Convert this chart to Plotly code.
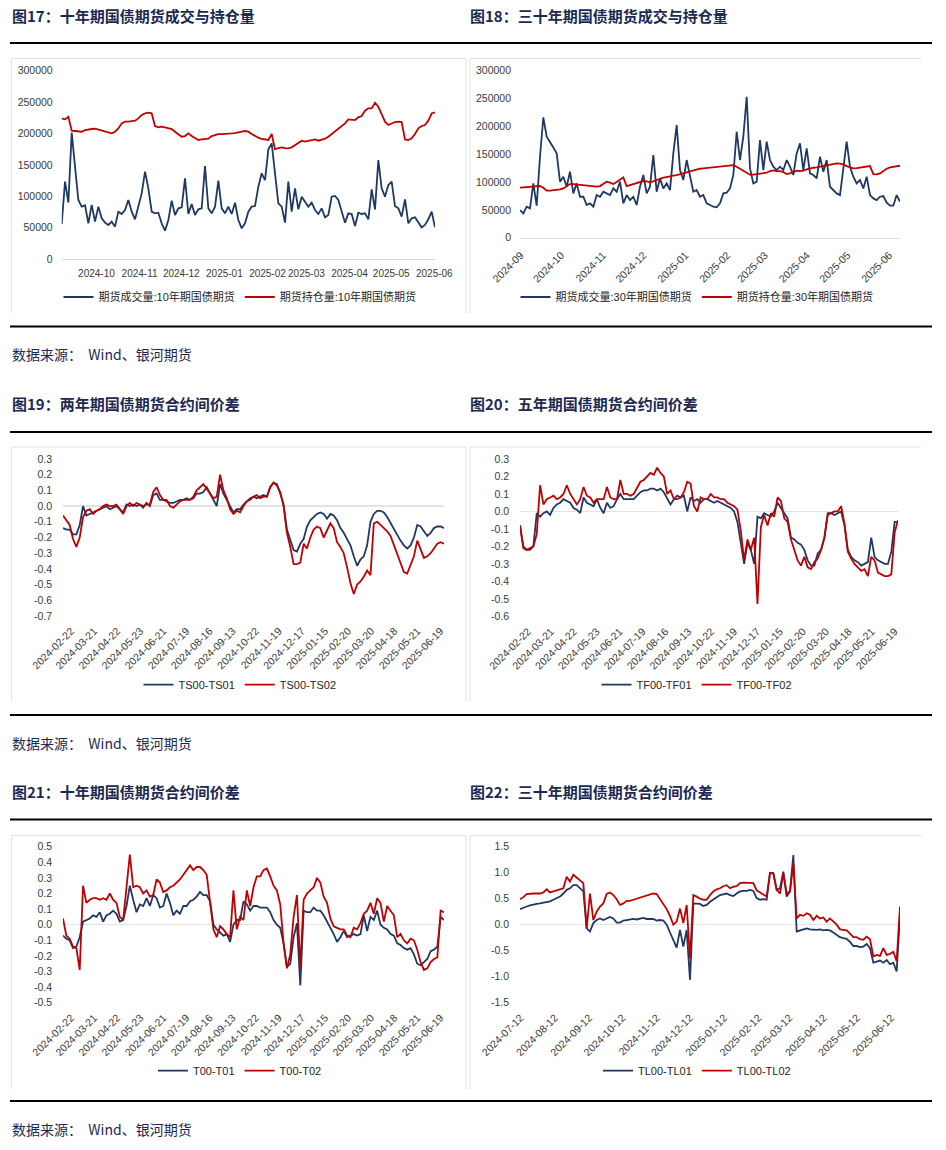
import numpy as np
import pandas as pd
import plotly.graph_objects as go

W, H = 946, 1150
NAVY = "#1f3864"
RED = "#c00000"
TITLE_C = "#1c2a53"
TICK_FONT = dict(family="Liberation Sans, Arial, sans-serif", size=10.5, color="#3a3a3a")
TICK_FONT_SMALL = dict(family="Liberation Sans, Arial, sans-serif", size=10, color="#3a3a3a")
LEG_FONT = dict(family="Liberation Sans, Noto Sans CJK SC, sans-serif", size=11, color="#262626")

# ---------------- data ----------------
# 图17 十年期国债期货成交与持仓量
c1_range = ["2024-09-20", "2025-06-15 12:00"]
c1_ticks = ["2024-10", "2024-11", "2024-12", "2025-01", "2025-02", "2025-03", "2025-04", "2025-05", "2025-06"]
c1_volume = [55700, 123200, 90000, 201200, 147100, 94000, 83400, 85500, 56800, 86000, 59500, 83400, 64800, 57900,
             54200, 59500, 51500, 75400, 71700, 78100, 94000, 75400, 63200, 83400, 104600, 139100, 112600, 75400,
             72700, 73800, 56800, 45100, 62100, 92900, 70100, 80700, 82300, 128500, 71700, 87600, 70100, 79100,
             80700, 148100, 80700, 72700, 83400, 124800, 80700, 72700, 83400, 71700, 89700, 62100, 48800, 56800,
             75400, 83400, 84400, 115200, 136500, 125800, 174700, 184300, 136500, 88700, 83400, 57900, 123200,
             75400, 112600, 79100, 99300, 91300, 83400, 89700, 78100, 71700, 80700, 66400, 70100, 99300, 100400,
             94000, 75400, 57900, 72700, 71700, 52600, 73800, 71700, 72700, 63200, 111000, 79100, 157700, 112600,
             99300, 117900, 123200, 84400, 80700, 67400, 95000, 56800, 64800, 66400, 57900, 50400, 54200, 63200,
             75400, 50400]
c1_oi = [224000, 222500, 226700, 204400, 203900, 203400, 202800, 205500, 206600, 207100, 207600, 206000, 204400,
         202800, 201200, 200200, 202800, 208100, 216100, 218800, 218800, 219300, 220400, 224000, 229400, 232000,
         233100, 232000, 211900, 209700, 210800, 209700, 208100, 207100, 202800, 199100, 194900, 195900, 200200,
         195900, 192200, 189600, 190600, 190600, 191700, 195900, 197500, 199100, 199100, 199100, 199600, 200200,
         200700, 201200, 202800, 203900, 202800, 199100, 195900, 193300, 191200, 190100, 189600, 199100, 174700,
         176800, 177900, 176800, 176300, 177900, 181600, 184300, 188500, 186900, 188000, 189600, 190600, 188500,
         189600, 191700, 194900, 199100, 204400, 208100, 211900, 216100, 222500, 221400, 221400, 225700, 227800,
         236300, 240000, 240000, 249000, 242700, 231000, 218800, 213500, 216100, 218200, 218800, 218200, 190600,
         189600, 192200, 199100, 208100, 211900, 213500, 220400, 232000, 233600]

# 图18 三十年期国债期货成交与持仓量
c2_range = ["2024-08-31 12:00", "2025-06-09"]
c2_ticks = ["2024-09", "2024-10", "2024-11", "2024-12", "2025-01", "2025-02", "2025-03", "2025-04", "2025-05", "2025-06"]
c2_volume = [49700, 43700, 55700, 52700, 97600, 57500, 145500, 216300, 181400, 172400, 162200, 151500, 100600,
             109600, 91600, 118500, 79600, 97600, 73600, 73600, 58700, 61700, 55700, 76600, 73600, 82600, 79600,
             76600, 88600, 82600, 100600, 61700, 76600, 67600, 73600, 58700, 91600, 112600, 79600, 91600, 148500,
             82600, 106600, 88600, 97600, 85600, 151500, 202400, 121500, 103600, 139500, 112600, 82600, 85600,
             73600, 76600, 61700, 58700, 55700, 54500, 61700, 79600, 80800, 88600, 112600, 190400, 139500, 181400,
             253200, 124500, 97600, 100600, 175400, 121500, 172400, 139500, 127500, 121500, 127500, 121500, 139500,
             127500, 112600, 151500, 169400, 121500, 160400, 115500, 112600, 106600, 145500, 118500, 139500, 91600,
             85600, 79600, 76600, 130500, 172400, 127500, 109600, 97600, 103600, 88600, 109600, 76600, 70600, 67600,
             73600, 74800, 62900, 57500, 57500, 76600, 64700]
c2_oi = [89800, 90400, 91000, 91600, 91600, 91600, 92800, 89800, 84400, 84400, 85000, 85600, 86800, 88600, 92800,
         96400, 96400, 95800, 95200, 94000, 93400, 92800, 92200, 91600, 92800, 96400, 100600, 98800, 96400, 100000,
         104800, 108400, 92800, 94600, 97600, 98800, 100000, 101800, 101200, 100000, 101200, 103600, 105400, 107800,
         109000, 109600, 111400, 112600, 114300, 116100, 117900, 119100, 121500, 123300, 123900, 124500, 125100,
         125700, 126300, 126900, 127500, 128700, 129900, 130500, 130500, 127500, 123900, 119700, 115500, 113200,
         113200, 113800, 114300, 115500, 116700, 119700, 120900, 119700, 119700, 117900, 114300, 115500, 117900,
         120300, 119700, 120300, 122700, 124500, 125700, 126300, 127500, 129900, 131100, 132300, 133500, 133500,
         132900, 131700, 128700, 126300, 124500, 125100, 126300, 127500, 128700, 128700, 114300, 113800, 115500,
         119700, 123900, 126300, 126900, 128700, 129300]

# 交易日序号坐标（图19-21）
spread_days = 330
spread_tick_pos = [7 + 20 * k for k in range(17)]
spread_ticks = ["2024-02-22", "2024-03-21", "2024-04-22", "2024-05-23", "2024-06-21", "2024-07-19", "2024-08-16",
                "2024-09-13", "2024-10-22", "2024-11-19", "2024-12-17", "2025-01-15", "2025-02-20", "2025-03-20",
                "2025-04-18", "2025-05-21", "2025-06-19"]

# 图19 两年期
ts01 = [-0.14, -0.15, -0.15, -0.18, -0.18, -0.12, 0.0, -0.06, -0.05, -0.04, -0.03, -0.02, -0.01, 0.0, -0.02, -0.01,
        0.0, -0.02, -0.04, 0.01, 0.0, 0.01, 0.0, 0.01, -0.01, 0.02, 0.0, 0.07, 0.08, 0.04, 0.04, 0.03, 0.02, 0.02,
        0.03, 0.04, 0.04, 0.05, 0.04, 0.05, 0.08, 0.08, 0.09, 0.12, 0.08, 0.04, 0.0, 0.14, 0.08, 0.04, 0.0, -0.04,
        -0.02, -0.02, 0.01, 0.03, 0.05, 0.06, 0.05, 0.06, 0.07, 0.06, 0.12, 0.15, 0.14, 0.08, 0.01, -0.15, -0.22,
        -0.28, -0.29, -0.24, -0.21, -0.13, -0.09, -0.07, -0.05, -0.04, -0.05, -0.08, -0.05, -0.06, -0.09, -0.14,
        -0.17, -0.21, -0.25, -0.32, -0.38, -0.34, -0.32, -0.25, -0.10, -0.05, -0.03, -0.03, -0.04, -0.07, -0.11,
        -0.15, -0.18, -0.22, -0.25, -0.27, -0.25, -0.20, -0.12, -0.13, -0.16, -0.19, -0.17, -0.14, -0.13, -0.13,
        -0.14]
ts02 = [-0.06, -0.09, -0.12, -0.21, -0.26, -0.20, -0.07, -0.03, -0.02, -0.05, -0.03, -0.02, 0.0, 0.01, 0.0, 0.0,
        0.01, -0.02, -0.05, 0.0, 0.02, 0.0, 0.02, 0.01, 0.0, 0.01, 0.01, 0.09, 0.12, 0.07, 0.04, 0.04, 0.0, -0.01,
        0.01, 0.03, 0.04, 0.04, 0.04, 0.06, 0.10, 0.12, 0.14, 0.11, 0.08, 0.05, 0.06, 0.20, 0.10, 0.05, -0.02, -0.05,
        -0.03, -0.04, 0.0, 0.03, 0.04, 0.06, 0.07, 0.05, 0.06, 0.06, 0.12, 0.15, 0.13, 0.09, 0.0, -0.17, -0.26,
        -0.37, -0.37, -0.36, -0.24, -0.27, -0.20, -0.15, -0.13, -0.14, -0.20, -0.15, -0.11, -0.14, -0.23, -0.26,
        -0.30, -0.39, -0.49, -0.56, -0.50, -0.48, -0.45, -0.41, -0.44, -0.11, -0.10, -0.12, -0.14, -0.16, -0.19,
        -0.25, -0.31, -0.37, -0.42, -0.43, -0.38, -0.32, -0.22, -0.28, -0.33, -0.32, -0.30, -0.27, -0.24, -0.23,
        -0.24]

# 图20 五年期
tf01 = [-0.08, -0.20, -0.22, -0.22, -0.20, -0.01, -0.03, -0.01, 0.0, -0.02, 0.02, 0.04, 0.05, 0.07, 0.06, 0.05,
        0.02, 0.01, -0.01, 0.08, 0.05, 0.04, 0.03, 0.07, 0.02, -0.01, 0.05, 0.02, 0.03, 0.07, 0.10, 0.07, 0.07, 0.07,
        0.07, 0.09, 0.11, 0.12, 0.12, 0.13, 0.13, 0.12, 0.13, 0.11, 0.07, 0.04, 0.07, 0.09, 0.08, 0.09, 0.0, 0.08,
        0.06, 0.07, 0.05, 0.07, 0.07, 0.06, 0.05, 0.06, 0.05, 0.04, 0.03, 0.02, 0.0, -0.06, -0.18, -0.30, -0.18,
        -0.22, -0.30, -0.03, -0.04, -0.01, -0.02, -0.03, 0.0, 0.05, 0.02, -0.01, -0.04, -0.15, -0.16, -0.18, -0.19,
        -0.22, -0.28, -0.31, -0.31, -0.24, -0.22, -0.15, -0.01, -0.01, -0.02, -0.01, 0.0, -0.08, -0.22, -0.26,
        -0.28, -0.29, -0.31, -0.30, -0.29, -0.15, -0.26, -0.28, -0.29, -0.30, -0.30, -0.23, -0.06, -0.06]
tf02 = [-0.08, -0.21, -0.22, -0.21, -0.20, -0.13, 0.15, 0.04, 0.07, 0.08, 0.09, 0.07, 0.08, 0.10, 0.15, 0.10, 0.07,
        0.04, 0.07, 0.14, 0.09, 0.08, 0.05, 0.07, 0.07, 0.07, 0.14, 0.08, 0.07, 0.07, 0.18, 0.10, 0.10, 0.09, 0.10,
        0.14, 0.17, 0.18, 0.20, 0.22, 0.21, 0.25, 0.22, 0.20, 0.10, 0.12, 0.07, 0.07, 0.08, 0.11, 0.17, 0.16, 0.03,
        0.0, 0.08, 0.07, 0.07, 0.10, 0.08, 0.08, 0.07, 0.07, 0.05, 0.04, 0.03, 0.01, -0.11, -0.28, -0.16, -0.22,
        -0.15, -0.53, -0.09, -0.02, -0.08, -0.01, -0.03, 0.08, 0.06, -0.04, -0.06, -0.16, -0.22, -0.28, -0.31,
        -0.26, -0.32, -0.33, -0.29, -0.27, -0.22, -0.15, -0.02, -0.01, 0.0, 0.0, 0.03, -0.07, -0.23, -0.27, -0.30,
        -0.32, -0.34, -0.33, -0.37, -0.26, -0.28, -0.35, -0.36, -0.37, -0.37, -0.36, -0.12, -0.05]

# 图21 十年期
t01 = [-0.07, -0.09, -0.10, -0.15, -0.14, -0.08, 0.02, 0.03, 0.04, 0.06, 0.05, 0.08, 0.02, 0.06, 0.07, 0.09, 0.07,
       0.02, 0.03, 0.12, 0.25, 0.16, 0.08, 0.13, 0.12, 0.17, 0.12, 0.19, 0.17, 0.11, 0.12, 0.20, 0.14, 0.06, 0.09,
       0.07, 0.12, 0.12, 0.15, 0.16, 0.18, 0.21, 0.19, 0.19, 0.15, 0.0, -0.03, -0.05, -0.07, -0.06, -0.11, 0.0, 0.03,
       0.03, 0.15, 0.13, 0.09, 0.12, 0.12, 0.11, 0.11, 0.11, 0.08, 0.03, 0.0, -0.02, -0.12, -0.27, -0.25, -0.08,
       0.01, -0.39, 0.09, 0.08, 0.08, 0.11, 0.09, 0.09, 0.06, 0.02, -0.01, -0.06, -0.11, -0.08, -0.04, -0.08,
       -0.07, -0.06, -0.07, -0.06, 0.06, -0.04, 0.05, 0.03, 0.09, 0.0, -0.02, -0.03, -0.06, -0.07, -0.12, -0.13,
       -0.15, -0.16, -0.15, -0.19, -0.25, -0.26, -0.24, -0.22, -0.17, -0.16, -0.14, 0.05, 0.03]
t02 = [0.04, -0.07, -0.09, -0.14, -0.15, -0.29, 0.25, 0.14, 0.16, 0.17, 0.17, 0.16, 0.17, 0.16, 0.20, 0.16, 0.14,
       0.05, 0.03, 0.24, 0.45, 0.24, 0.25, 0.24, 0.20, 0.22, 0.18, 0.19, 0.29, 0.27, 0.21, 0.22, 0.24, 0.25, 0.27,
       0.29, 0.32, 0.35, 0.38, 0.35, 0.37, 0.37, 0.35, 0.32, 0.14, -0.03, -0.08, -0.01, -0.03, -0.06, -0.08, 0.22,
       -0.03, 0.05, 0.03, 0.22, 0.12, 0.24, 0.31, 0.31, 0.35, 0.36, 0.31, 0.25, 0.22, 0.13, -0.12, -0.28, -0.19,
       0.05, 0.19, -0.28, 0.16, 0.20, 0.22, 0.24, 0.30, 0.27, 0.18, 0.14, 0.04, -0.01, -0.02, -0.03, -0.03, -0.07,
       -0.08, -0.02, -0.03, 0.01, 0.07, 0.09, 0.14, 0.07, 0.17, 0.14, 0.02, 0.12, 0.09, 0.06, -0.08, -0.06, -0.10,
       -0.12, -0.09, -0.10, -0.16, -0.24, -0.29, -0.28, -0.24, -0.22, -0.21, 0.09, 0.08]

# 图22 三十年期
c6_range = ["2024-07-11 12:00", "2025-06-20"]
c6_ticks = ["2024-07-12", "2024-08-12", "2024-09-12", "2024-10-12", "2024-11-12", "2024-12-12", "2025-01-12",
            "2025-02-12", "2025-03-12", "2025-04-12", "2025-05-12", "2025-06-12"]
tl01 = [0.30, 0.33, 0.35, 0.37, 0.39, 0.40, 0.41, 0.42, 0.44, 0.45, 0.48, 0.51, 0.54, 0.60, 0.67, 0.70, 0.76, 0.76,
        0.70, 0.64, -0.07, -0.13, 0.03, 0.09, 0.12, 0.09, 0.12, 0.15, 0.12, 0.04, 0.04, 0.08, 0.09, 0.10, 0.11, 0.10,
        0.12, 0.13, 0.11, 0.11, 0.11, 0.08, 0.09, 0.08, 0.0, -0.15, -0.29, -0.44, -0.10, -0.42, -0.10, -1.06, 0.41,
        0.40, 0.40, 0.36, 0.38, 0.44, 0.49, 0.53, 0.57, 0.59, 0.60, 0.57, 0.55, 0.60, 0.64, 0.65, 0.65, 0.67, 0.65,
        0.51, 0.48, 0.49, 0.48, 1.00, 0.99, 0.67, 0.70, 1.02, 0.54, 0.64, 1.34, -0.13, -0.11, -0.09, -0.07, -0.09,
        -0.10, -0.10, -0.09, -0.11, -0.10, -0.11, -0.15, -0.20, -0.24, -0.26, -0.27, -0.33, -0.41, -0.41, -0.43,
        -0.42, -0.37, -0.45, -0.73, -0.71, -0.69, -0.73, -0.68, -0.76, -0.73, -0.90, 0.19]
tl02 = [0.49, 0.53, 0.59, 0.60, 0.60, 0.60, 0.60, 0.62, 0.68, 0.62, 0.64, 0.65, 0.67, 0.70, 0.92, 0.83, 0.96, 0.91,
        0.86, 0.80, -0.07, 0.60, 0.09, 0.25, 0.35, 0.41, 0.59, 0.62, 0.57, 0.49, 0.38, 0.41, 0.46, 0.46, 0.48, 0.50,
        0.53, 0.55, 0.57, 0.58, 0.60, 0.59, 0.49, 0.40, 0.30, 0.17, 0.0, 0.06, 0.31, 0.03, 0.38, -0.65, 0.57, 0.54,
        0.50, 0.48, 0.48, 0.57, 0.64, 0.68, 0.70, 0.74, 0.76, 0.70, 0.73, 0.74, 0.80, 0.81, 0.81, 0.81, 0.80, 0.66,
        0.62, 0.58, 0.54, 0.99, 0.99, 0.67, 0.60, 0.99, 0.60, 0.64, 1.18, 0.12, 0.19, 0.17, 0.22, 0.19, 0.09, 0.17,
        0.12, 0.14, 0.06, 0.12, 0.06, 0.0, -0.09, -0.10, -0.11, -0.17, -0.24, -0.24, -0.28, -0.29, -0.23, -0.28,
        -0.61, -0.58, -0.60, -0.45, -0.58, -0.56, -0.52, -0.70, 0.35]

titles = ["图17：十年期国债期货成交与持仓量", "图18：三十年期国债期货成交与持仓量",
          "图19：两年期国债期货合约间价差", "图20：五年期国债期货合约间价差",
          "图21：十年期国债期货合约间价差", "图22：三十年期国债期货合约间价差"]
source_text = "数据来源：  Wind、银河期货"


# ---------------- helpers ----------------
def X(p):
    return p / W


def Y(p):
    return 1 - p / H


def dates(rng, n):
    return pd.date_range(pd.Timestamp(rng[0]), pd.Timestamp(rng[1]), periods=n)


def days(n):
    return np.linspace(0, spread_days, n)


fig = go.Figure()

# panel geometry in page pixels: (left, right, top, bottom)
geo = {
    1: (61.7, 435.0, 70.7, 259.0),
    2: (520.0, 900.0, 70.7, 237.7),
    3: (63.0, 444.0, 459.0, 616.0),
    4: (520.0, 898.0, 459.0, 616.3),
    5: (63.0, 444.0, 846.7, 1002.7),
    6: (520.0, 900.0, 846.7, 1002.7),
}

series = [
    (1, dates(c1_range, len(c1_volume)), c1_volume, "期货成交量:10年期国债期货", NAVY),
    (1, dates(c1_range, len(c1_oi)), c1_oi, "期货持仓量:10年期国债期货", RED),
    (2, dates(c2_range, len(c2_volume)), c2_volume, "期货成交量:30年期国债期货", NAVY),
    (2, dates(c2_range, len(c2_oi)), c2_oi, "期货持仓量:30年期国债期货", RED),
    (3, days(len(ts01)), ts01, "TS00-TS01", NAVY),
    (3, days(len(ts02)), ts02, "TS00-TS02", RED),
    (4, days(len(tf01)), tf01, "TF00-TF01", NAVY),
    (4, days(len(tf02)), tf02, "TF00-TF02", RED),
    (5, days(len(t01)), t01, "T00-T01", NAVY),
    (5, days(len(t02)), t02, "T00-T02", RED),
    (6, dates(c6_range, len(tl01)), tl01, "TL00-TL01", NAVY),
    (6, dates(c6_range, len(tl02)), tl02, "TL00-TL02", RED),
]

for p, xs, ys, name, color in series:
    sfx = "" if p == 1 else str(p)
    fig.add_trace(go.Scatter(
        x=xs, y=ys, name=name, mode="lines",
        line=dict(color=color, width=1.8),
        xaxis="x" + sfx, yaxis="y" + sfx,
        legend="legend" + sfx, hoverinfo="skip"))

layout = {}
yspecs = {
    1: ([k * 50000 for k in range(7)], [str(k * 50000) for k in range(7)], [0, 300000]),
    2: ([k * 50000 for k in range(7)], [str(k * 50000) for k in range(7)], [0, 300000]),
    3: ([k / 10 for k in range(-7, 4)], [f"{k / 10:.1f}" for k in range(-7, 4)], [-0.7, 0.3]),
    4: ([k / 10 for k in range(-6, 4)], [f"{k / 10:.1f}" for k in range(-6, 4)], [-0.6, 0.3]),
    5: ([k / 10 for k in range(-5, 6)], [f"{k / 10:.1f}" for k in range(-5, 6)], [-0.5, 0.5]),
    6: ([k / 2 for k in range(-3, 4)], [f"{k / 2:.1f}" for k in range(-3, 4)], [-1.5, 1.5]),
}

for p in range(1, 7):
    l, r, t, b = geo[p]
    sfx = "" if p == 1 else str(p)
    tv, tt, yr = yspecs[p]
    eps = (yr[1] - yr[0]) * 1e-5
    layout["yaxis" + sfx] = dict(
        domain=[Y(b), Y(t)], anchor="x" + sfx, range=[yr[0] - eps, yr[1] + eps],
        tickmode="array", tickvals=tv, ticktext=tt, showgrid=False, showline=False,
        zeroline=p >= 3, zerolinecolor="#e3e3e3", zerolinewidth=1.3, automargin=False,
        ticks="", tickfont=TICK_FONT, ticklabelstandoff=8 if p <= 2 else 10, fixedrange=True)
    xa = dict(domain=[X(l), X(r)], anchor="y" + sfx, showgrid=False, zeroline=False, automargin=False,
              ticks="", tickfont=TICK_FONT, fixedrange=True)
    if p == 1:
        xa.update(type="date", range=c1_range, tickmode="array",
                  tickvals=[pd.Timestamp(m + "-15") for m in c1_ticks], ticktext=c1_ticks,
                  tickangle=0, showline=True, linecolor="#dcdcdc", linewidth=1.3, ticklabelstandoff=5,
                  tickfont=TICK_FONT_SMALL)
    elif p == 2:
        xa.update(type="date", range=c2_range, tickmode="array",
                  tickvals=[pd.Timestamp(m + "-01") for m in c2_ticks], ticktext=c2_ticks,
                  tickangle=-45, showline=True, linecolor="#dcdcdc", linewidth=1.3, ticklabelstandoff=6)
    elif p == 6:
        xa.update(type="date", range=c6_range, tickmode="array",
                  tickvals=[pd.Timestamp(d) for d in c6_ticks], ticktext=c6_ticks,
                  tickangle=-45, showline=False, ticklabelstandoff=6)
    else:
        xa.update(type="linear", range=[0, spread_days], tickmode="array",
                  tickvals=spread_tick_pos, ticktext=spread_ticks,
                  tickangle=-45, showline=False, ticklabelstandoff=6)
    layout["xaxis" + sfx] = xa

# legends
leg_pos = {1: (240, 297), 2: (697, 297), 3: (240, 684.7), 4: (697, 684.7), 5: (240, 1070.7), 6: (697, 1070.7)}
for p, (cx, cy) in leg_pos.items():
    sfx = "" if p == 1 else str(p)
    layout["legend" + sfx] = dict(
        x=X(cx), y=Y(cy), xanchor="center", yanchor="middle", orientation="h",
        font=LEG_FONT, bgcolor="rgba(0,0,0,0)", itemwidth=30, itemclick=False, itemdoubleclick=False)

# titles, rules, boxes, source notes
annotations = []
shapes = []
rows = [  # title_y, rule_top, rule_bottom, box_top, box_bottom
    (15, 43, 326.5, 58.5, 313),
    (404, 432, 715, 447, 701),
    (791, 819.5, 1101, 835.5, 1089),
]
src_y = [354, 743, 1129]
for i, (ty, rt, rb, bt, bb) in enumerate(rows):
    for j, tx in enumerate([10, 468]):
        annotations.append(dict(
            text="<b>" + titles[2 * i + j] + "</b>", x=X(tx), y=Y(ty), xref="paper", yref="paper",
            xanchor="left", yanchor="middle", showarrow=False,
            font=dict(family="Noto Sans CJK SC, sans-serif", size=15, color=TITLE_C)))
    for yy in (rt, rb):
        shapes.append(dict(type="line", xref="paper", yref="paper", x0=X(10), x1=X(932), y0=Y(yy), y1=Y(yy),
                           line=dict(color="#000000", width=2)))
    box_c = dict(color="#e2e2e2", width=1)
    shapes.append(dict(type="line", xref="paper", yref="paper", x0=X(11.5), x1=X(466), y0=Y(bt), y1=Y(bt), line=box_c))
    shapes.append(dict(type="line", xref="paper", yref="paper", x0=X(11.5), x1=X(11.5), y0=Y(bt), y1=Y(bb), line=box_c))
    shapes.append(dict(type="line", xref="paper", yref="paper", x0=X(466), x1=X(466), y0=Y(bt), y1=Y(bb), line=box_c))
    shapes.append(dict(type="line", xref="paper", yref="paper", x0=X(470), x1=X(921), y0=Y(bt), y1=Y(bt), line=box_c))
    shapes.append(dict(type="line", xref="paper", yref="paper", x0=X(470), x1=X(470), y0=Y(bt), y1=Y(bb), line=box_c))
    annotations.append(dict(
        text=source_text, x=X(10), y=Y(src_y[i]), xref="paper", yref="paper",
        xanchor="left", yanchor="middle", showarrow=False,
        font=dict(family="Noto Sans CJK SC, sans-serif", size=14, color=TITLE_C)))

fig.update_layout(
    width=W, height=H, autosize=False,
    margin=dict(l=0, r=0, t=0, b=0, pad=0, autoexpand=False),
    paper_bgcolor="white", plot_bgcolor="rgba(0,0,0,0)",
    showlegend=True, annotations=annotations, shapes=shapes,
    **layout)

fig.write_html("out.html", config={"displayModeBar": False, "staticPlot": True},
               post_script="document.body.style.margin='0px';")
